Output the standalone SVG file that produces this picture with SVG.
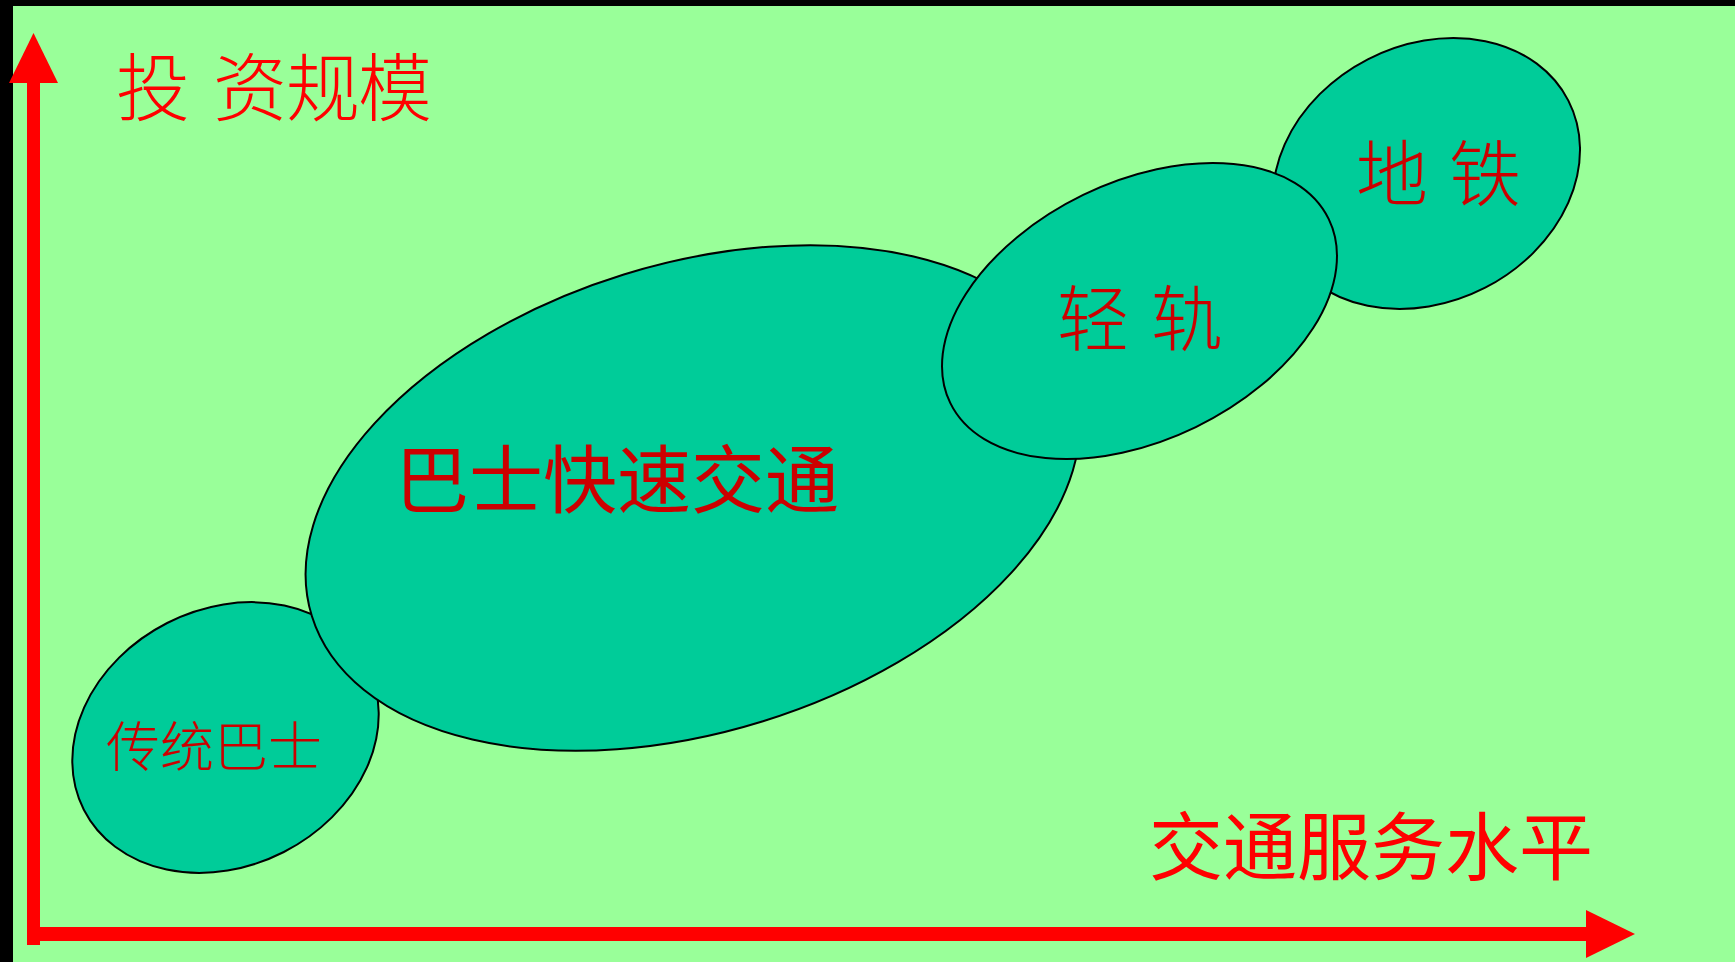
<svg xmlns="http://www.w3.org/2000/svg" width="1735" height="962" viewBox="0 0 1735 962">
<style>
.bub{fill:#00CC99;stroke:#000;stroke-width:2}
.lbl{font-family:"Noto Sans CJK SC","Liberation Sans",sans-serif;fill:#CC0000}
.thin{font-weight:300}
.axlbl{font-family:"Noto Sans CJK SC","Liberation Sans",sans-serif;fill:#FF0000}
.ax{fill:#FF0000}
</style>
<rect x="0" y="0" width="1735" height="962" fill="#000"/>
<rect x="13" y="6" width="1722" height="956" fill="#99FF99"/>
<g id="node-traditional-bus">
<ellipse class="bub" cx="225.5" cy="737.5" rx="159" ry="128.5" transform="rotate(-27 225.5 737.5)"/>
<text class="lbl thin" x="106" y="767" font-size="54">传统巴士</text>
</g>
<g id="node-brt">
<ellipse class="bub" cx="693" cy="498" rx="399" ry="234" transform="rotate(-17.2 693 498)"/>
<text class="lbl" x="395" y="507" font-size="74">巴士快速交通</text>
</g>
<g id="node-metro">
<ellipse class="bub" cx="1426.5" cy="173.5" rx="159.5" ry="128.4" transform="rotate(-27.2 1426.5 173.5)"/>
<text class="lbl thin" x="1356 1428 1449" y="200" font-size="72">地 铁</text>
</g>
<g id="node-lrt">
<ellipse class="bub" cx="1139.5" cy="311" rx="210.4" ry="129" transform="rotate(-25.9 1139.5 311)"/>
<text class="lbl thin" x="1057 1129 1151" y="345" font-size="72">轻 轨</text>
</g>
<g id="connectors">
<rect class="ax" x="27" y="83" width="13" height="862"/>
<polygon class="ax" points="33.5,33 9,83 58,83"/>
<rect class="ax" x="27" y="927" width="1560" height="14"/>
<polygon class="ax" points="1586,910 1635,934 1586,958"/>
</g>
<g id="axis-labels">
<text class="axlbl thin" x="116 190 213 286 358" y="115" font-size="74">投 资规模</text>
<text class="axlbl" x="1149" y="874" font-size="74">交通服务水平</text>
</g>
</svg>
